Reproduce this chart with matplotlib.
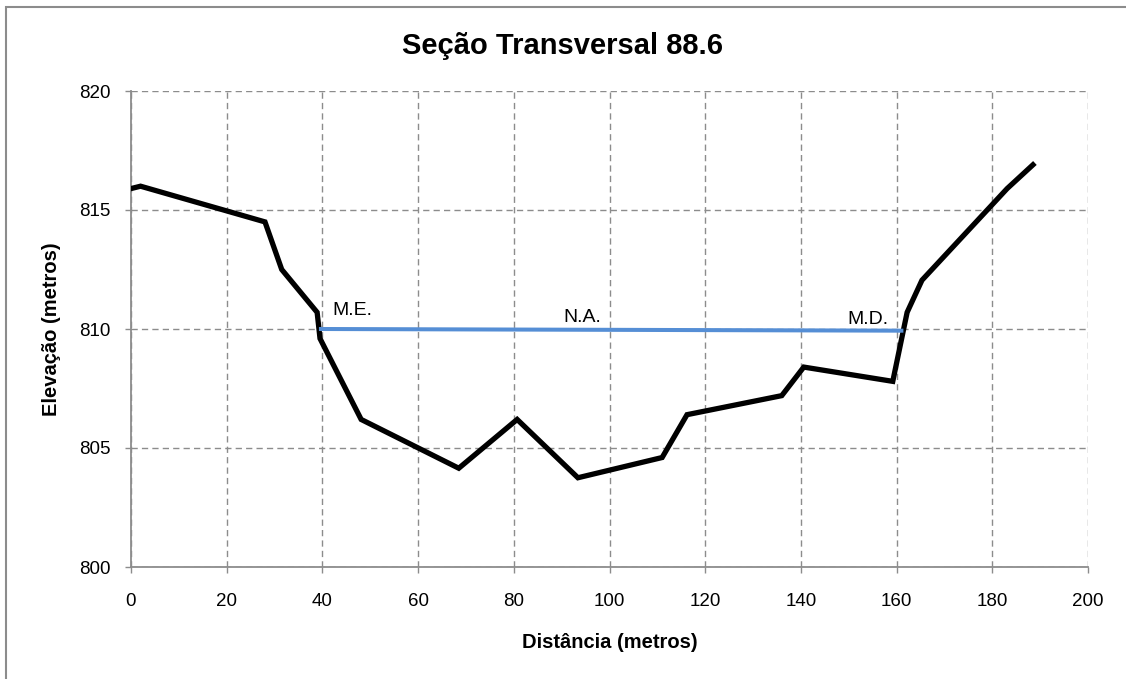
import matplotlib
matplotlib.use('Agg')
import matplotlib.pyplot as plt
from matplotlib.patches import Rectangle

plt.rcParams['font.family'] = ['Liberation Sans', 'DejaVu Sans']

# perfil do terreno
dist = [0, 2, 28, 31.5, 38.9, 39.5, 48.1, 68.5, 80.7, 93.4, 111, 116.2, 136, 140.6, 159.2, 162.2, 165.3, 183.1, 188.5]
elev = [815.9, 816.0, 814.5, 812.5, 810.7, 809.6, 806.2, 804.15, 806.2, 803.75, 804.6, 806.4, 807.2, 808.4, 807.8, 810.7, 812.05, 815.9, 816.9]

# nivel d'agua
na_x = [39.7, 161.0]
na_y = [810.0, 809.93]

labels = ['M.E.', 'N.A.', 'M.D.']
lab_x = [42.0, 90.3, 149.8]
lab_y = [810.6, 810.3, 810.2]

fig = plt.figure(figsize=(11.26, 6.79), dpi=100)
ax = fig.add_axes([131/1126, 1-567/679, (1088-131)/1126, (567-91)/679])

ax.plot(dist, elev, color='black', lw=3.8, solid_joinstyle='miter', zorder=3)
ax.plot(na_x, na_y, color='#558ed5', lw=2.9, zorder=4)
for t, x, y in zip(labels, lab_x, lab_y):
    ax.text(x, y, t, fontsize=14, ha='left', va='baseline')

ax.set_xlim(0, 200)
ax.set_ylim(800, 820)
ax.set_xticks(range(0, 201, 20))
ax.set_yticks(range(800, 821, 5))
ax.grid(True, color='#8c8c8c', ls=(0, (4.5, 3)), lw=1.0)
ax.set_axisbelow(True)
for s in ['top', 'right']:
    ax.spines[s].set_visible(False)
for s in ['left', 'bottom']:
    ax.spines[s].set_color('#8c8c8c')
    ax.spines[s].set_linewidth(1.3)
ax.tick_params(axis='both', color='#8c8c8c', length=4, width=1.0, labelsize=13.5)
ax.tick_params(axis='x', pad=15)
ax.tick_params(axis='y', pad=11)

ax.set_xlabel('Distância (metros)', fontsize=14.5, fontweight='bold', labelpad=16)
ax.set_ylabel('Elevação (metros)', fontsize=14.5, fontweight='bold', labelpad=13)
fig.suptitle('Seção Transversal 88.6', fontsize=21, fontweight='bold', x=0.5, y=1-46/679, va='center')

fig.patches.append(Rectangle((6/1126, -0.05), 1.1, 1-7/679+0.05, transform=fig.transFigure,
                             fill=False, edgecolor='#8c8c8c', lw=1.5))

fig.savefig('out.png', dpi=100)
